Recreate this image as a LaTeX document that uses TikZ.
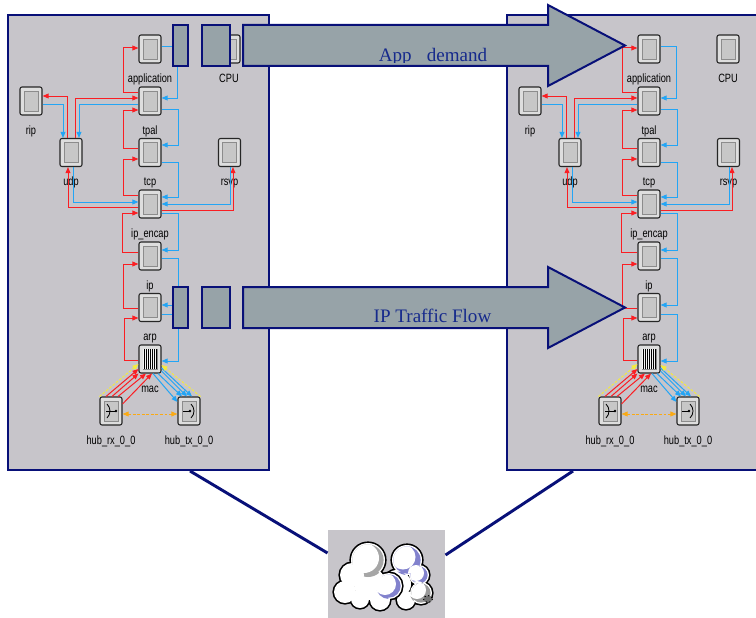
\documentclass[tikz,border=0pt]{standalone}
\usepackage{fontspec}
\setmainfont{Liberation Serif}
\setsansfont{Liberation Sans}
\usetikzlibrary{arrows.meta}

\definecolor{panelgray}{RGB}{199,197,202}
\definecolor{flowgray}{RGB}{151,163,168}
\definecolor{navyline}{RGB}{8,16,120}
\definecolor{flowtext}{RGB}{22,42,140}
\definecolor{strmred}{RGB}{250,30,35}
\definecolor{strmblue}{RGB}{35,165,245}
\definecolor{statyellow}{RGB}{245,235,60}
\definecolor{statorange}{RGB}{250,170,20}
\definecolor{cloudshade}{RGB}{130,130,205}

\tikzset{every picture/.style={line width=0.75pt}}
\tikzset{
  panel/.style={draw=navyline, fill=panelgray, line width=1.5pt, minimum width=195.75pt, minimum height=341.25pt, inner sep=0pt},
  module/.style={draw=black!85, fill=black!13, rounded corners=1.5pt, line width=0.8pt, minimum width=16.5pt, minimum height=21pt, inner sep=0pt},
  modin/.style={draw=black!45, fill=black!22, line width=0.6pt, minimum width=10.5pt, minimum height=15pt, inner sep=0pt},
  modlbl/.style={font=\sffamily\fontsize{9}{10}\selectfont, anchor=north, inner sep=0pt, outer ysep=7.5pt, text height=6.6pt, text depth=2pt},
  tip/.style={-{Triangle[length=4.5pt,width=3.6pt]}},
  rln/.style={draw=strmred, tip},
  bln/.style={draw=strmblue, tip},
  yln/.style={draw=statyellow, dash pattern=on 2pt off 1.2pt, tip},
  oln/.style={draw=statorange, dash pattern=on 2.2pt off 1.2pt, {Triangle[length=4.5pt,width=3.6pt]}-{Triangle[length=4.5pt,width=3.6pt]}},
  dish/.style={draw=black, line width=0.6pt},
  flow/.style={draw=navyline, fill=flowgray, line width=1.5pt},
  flowtxt/.style={font=\fontsize{14.3}{17}\selectfont, text=flowtext, anchor=base, inner sep=0pt},
  link/.style={draw=navyline, line width=2.2pt},
  netbox/.style={fill=panelgray, minimum width=87.75pt, minimum height=66pt, inner sep=0pt},
  cloudedge/.style={draw=black, line width=2.4pt}
}

% one process module: icon, inner face and name below
\newcommand\modbox[3]{%
  \node[module] (#1) at (#2) {};
  \node[modin] (#1-in) at (#1) {};
  \node[modlbl] (#1-lbl) at (#1.south) {\scalebox{0.77}[1]{#3}};
}

% the whole node model, #1 = name prefix, #2 = x offset
\newcommand\stackpanel[2]{%
\begin{scope}[shift={(#2,0)}]
  %modules
  \modbox{#1app}{150,49}{application}
  \modbox{#1cpu}{229,49}{CPU}
  \modbox{#1rip}{31,101}{rip}
  \modbox{#1tpal}{150,101}{tpal}
  \modbox{#1udp}{71,152.5}{udp}
  \modbox{#1tcp}{150,152.5}{tcp}
  \modbox{#1rsvp}{229.5,152.5}{rsvp}
  \modbox{#1ipenc}{150,204}{ip\_encap}
  \modbox{#1ip}{150,256}{ip}
  \modbox{#1arp}{150,307.5}{arp}
  \modbox{#1mac}{150,359}{mac}
  \modbox{#1hubrx}{111,411}{hub\_rx\_0\_0}
  \modbox{#1hubtx}{189,411}{hub\_tx\_0\_0}

  %queue stripes of mac
  \fill[black!4] (#1mac-in.north west) rectangle (#1mac-in.south east);
  \foreach \k in {-6,-4,...,6}
    \draw[line width=0.6pt] (#1mac.center) ++(\k,-10) -- ++(0,20);

  %transceiver symbols
  \draw[dish] (107,404) .. controls (111,408) and (111,414) .. (107,418);
  \draw[dish] (106,411) -- (116,411);
  \fill (116,411) circle (1.3);
  \draw[dish] (183,411) -- (190,411);
  \fill (190,411) circle (1.3);
  \draw[dish] (191,404) .. controls (195,408) and (195,414) .. (191,418);

  %red streams (up the stack)
  \draw[rln] (#1tpal.west |- 0,92) -- (123,92) -- (123,48) -- (#1app.west |- 0,48);
  \draw[rln] (#1udp.north -| 67,0) -- (67,96) -- (#1rip.east |- 0,96);
  \draw[rln] (#1udp.north -| 75,0) -- (75,98) -- (#1tpal.west |- 0,98);
  \draw[rln] (#1tcp.west |- 0,148) -- (123,148) -- (123,110) -- (#1tpal.west |- 0,110);
  \draw[rln] (#1ipenc.west |- 0,195) -- (123,195) -- (123,159) -- (#1tcp.west |- 0,159);
  \draw[rln] (#1ipenc.west |- 0,207) -- (68,207) -- (#1udp.south -| 68,0);
  \draw[rln] (#1ipenc.east |- 0,210) -- (233,210) -- (#1rsvp.south -| 233,0);
  \draw[rln] (#1ip.west |- 0,252) -- (122,252) -- (122,213) -- (#1ipenc.west |- 0,213);
  \draw[rln] (#1arp.west |- 0,308) -- (123,308) -- (123,264) -- (#1ip.west |- 0,264);
  \draw[rln] (#1mac.west |- 0,360) -- (124,360) -- (124,318) -- (#1arp.west |- 0,318);

  %blue streams (down the stack)
  \draw[bln] (#1app.east |- 0,47) -- (177,47) -- (177,98) -- (#1tpal.east |- 0,98);
  \draw[bln] (#1tpal.east |- 0,109) -- (178,109) -- (178,145) -- (#1tcp.east |- 0,145);
  \draw[bln] (#1tcp.east |- 0,162) -- (178,162) -- (178,197) -- (#1ipenc.east |- 0,197);
  \draw[bln] (#1rip.east |- 0,104) -- (63,104) -- (#1udp.north -| 63,0);
  \draw[bln] (#1tpal.west |- 0,104) -- (79,104) -- (#1udp.north -| 79,0);
  \draw[bln] (#1udp.south -| 73,0) -- (73,202) -- (#1ipenc.west |- 0,202);
  \draw[bln] (#1rsvp.south -| 230,0) -- (230,204) -- (#1ipenc.east |- 0,204);
  \draw[bln] (#1ipenc.east |- 0,213) -- (178,213) -- (178,250) -- (#1ip.east |- 0,250);
  \draw[bln] (#1ip.east |- 0,258) -- (178,258) -- (178,305) -- (#1arp.east |- 0,305);
  \draw[bln] (#1arp.east |- 0,314) -- (178,314) -- (178,361) -- (#1mac.east |- 0,361);

  %mac <-> hub streams
  \draw[yln] (#1hubrx.north west) -- (#1mac.west |- 0,364);
  \draw[rln] (#1hubrx.north -| 106,0) -- (#1mac.west |- 0,369);
  \draw[rln] (#1hubrx.north -| 112,0) -- (#1mac.south west);
  \draw[rln] (#1hubrx.north -| 118,0) -- (#1mac.south -| 146,0);
  \draw[rln] (#1hubrx.east |- 0,404) -- (#1mac.south -| 152,0);
  \draw[bln] (#1mac.south -| 153,0) -- (#1hubtx.west |- 0,402);
  \draw[bln] (#1mac.south -| 158,0) -- (#1hubtx.north -| 182,0);
  \draw[bln] (#1mac.east |- 0,371) -- (#1hubtx.north -| 187,0);
  \draw[bln] (#1mac.east |- 0,368) -- (#1hubtx.north -| 192,0);
  \draw[yln] (#1hubtx.north east) -- (#1mac.east |- 0,365);
  \draw[oln] (#1hubrx.east |- 0,414) -- (#1hubtx.west |- 0,414);
\end{scope}}

\begin{document}
\begin{tikzpicture}[x=0.75pt,y=0.75pt,yscale=-1,xscale=1]
	\clip (0,0) rectangle (756,617);
	\fill[white] (0,0) rectangle (756,617);

	%Panels
	\node[panel] (lpan) at (138.5,242.5) {};
	\node[panel] (rpan) at (637.5,242.5) {};

	%Node models
	\stackpanel{L}{0}
	\stackpanel{R}{499}

	%Arrow: App demand
	\draw[flow] (173,25) rectangle (188,66);
	\draw[flow] (202,25) rectangle (230,66);
	\draw[flow] (243,25) -- (548,25) -- (548,5) -- (625,45.5) -- (548,86) -- (548,66) -- (243,66) -- cycle;
	\begin{scope}
		\clip (243,25) rectangle (548,62.5);
		\node[flowtxt] (appdem) at (433,61) {App\hspace{0.8em}demand};
	\end{scope}

	%Arrow: IP Traffic Flow
	\draw[flow] (173,287) rectangle (188,328);
	\draw[flow] (202,287) rectangle (230,328);
	\draw[flow] (243,287) -- (548,287) -- (548,267) -- (625,307.5) -- (548,348) -- (548,328) -- (243,328) -- cycle;
	\node[flowtxt] (ipflow) at (432.5,322.7) {IP Traffic Flow};

	%Network cloud and its links
	\node[netbox] (net) at (386.5,574) {};
	\draw[link] (lpan.south -| 190,0) -- (net.west |- 0,553);
	\draw[link] (rpan.south -| 573,0) -- (net.east |- 0,555);

	%back cloud
	\foreach \cx/\cy/\r in {407/560/15, 419/575/10, 421/593/11, 406/600/9, 397/584/14}
		\draw[cloudedge] (\cx,\cy) circle (\r);
	\foreach \cx/\cy/\r in {407/560/15, 419/575/10, 421/593/11, 406/600/9, 397/584/14}
		\fill[white] (\cx,\cy) circle (\r);
	\begin{scope}
		\clip (407,560) circle (13.6) (419,575) circle (8.6) (421,593) circle (9.6) (406,600) circle (7.6) (397,584) circle (12.6);
		\fill[cloudshade] (407,560) circle (15);
		\fill[white] (403,557) circle (12.5);
		\fill[cloudshade] (419,575) circle (10);
		\fill[white] (416,573) circle (8);
		\fill[black!40] (421,593) circle (11);
		\fill[white] (417,590) circle (9);
	\end{scope}
	\fill[black!55] (428,599) ellipse (4.5 and 3.5);
	\draw[line width=0.8pt, dotted] (428,599) ellipse (4.5 and 3.5);

	%front cloud
	\foreach \cx/\cy/\r in {368/560/17, 352/575/12, 345/592/11, 360/599/9, 380/600/10, 389/586/13, 370/584/16}
		\draw[cloudedge] (\cx,\cy) circle (\r);
	\foreach \cx/\cy/\r in {368/560/17, 352/575/12, 345/592/11, 360/599/9, 380/600/10, 389/586/13, 370/584/16}
		\fill[white] (\cx,\cy) circle (\r);
	\begin{scope}
		\clip (368,560) circle (15.6) (352,575) circle (10.6) (345,592) circle (9.6) (360,599) circle (7.6) (380,600) circle (8.6) (389,586) circle (11.6) (370,584) circle (14.6);
		\fill[black!35] (368,560) circle (17);
		\fill[white] (364,558) circle (15);
		\fill[cloudshade] (389,586) circle (13);
		\fill[white] (385,584) circle (11);
		\fill[white] (360,599) circle (9);
		\fill[white] (352,575) circle (12);
	\end{scope}

\end{tikzpicture}
\end{document}
